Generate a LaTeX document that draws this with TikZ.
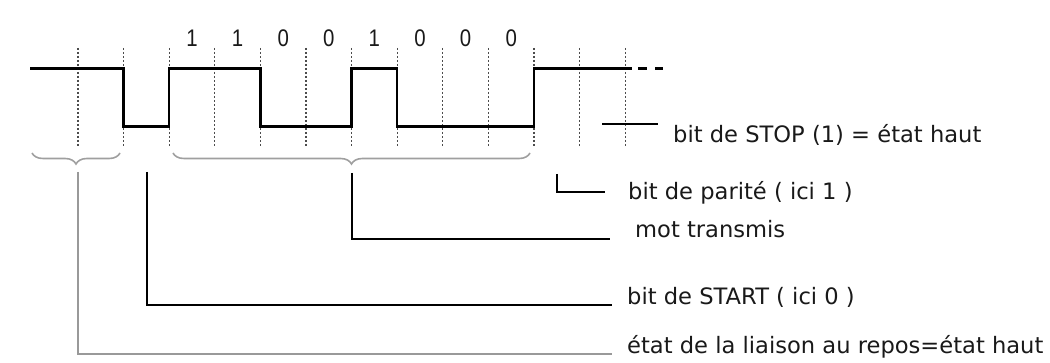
\documentclass[tikz,border=0pt]{standalone}
\usepackage{fontspec}
\setmainfont{DejaVu Sans}
\newfontfamily\digitfont{Liberation Sans}
\usetikzlibrary{decorations.pathreplacing,calc}

\begin{document}
\begin{tikzpicture}[x=1pt,y=-1pt,
  signal/.style={line width=2.3pt, line join=miter, black},
  grid line/.style={line width=1.1pt, black!70, dash pattern=on 2.5pt off 1.5pt},
  bracket/.style={decorate, decoration={brace,mirror,amplitude=11pt}, line width=1.6pt, gray!75},
  leader/.style={line width=1.6pt, black},
  caption text/.style={anchor=base west, inner sep=0pt, font=\fontsize{22.6}{27}\selectfont, text=black!90},
  bitval/.style={anchor=base, inner sep=0pt, font=\digitfont\fontsize{24}{26}\selectfont, xscale=0.85, text=black!90}
]
\useasboundingbox (0,0) rectangle (1050,363);

% bit-time grid
\foreach \k in {0,...,12}
  \draw[grid line] (78+45.6*\k,48) -- (78+45.6*\k,147);

% transmitted waveform
\draw[signal] (30,68.5) -- (123.6,68.5) -- (123.6,126.5) -- (169.2,126.5)
  -- (169.2,68.5) -- (260.4,68.5) -- (260.4,126.5) -- (351.6,126.5)
  -- (351.6,68.5) -- (397.2,68.5) -- (397.2,126.5) -- (534,126.5)
  -- (534,68.5) -- (632,68.5);
\draw[signal, dash pattern=on 9pt off 8pt] (638,68.5) -- (663,68.5);

% data bits
\foreach \b [count=\i from 2] in {1,1,0,0,1,0,0,0}
  \node[bitval] (bit\i) at (78+45.6*\i+22.8,46.5) {\b};

% braces
\draw[bracket] (32,153) -- (120,153);
\draw[bracket] (173,153) -- (530,153);

% leader origins
\coordinate (restTip) at (78,172);
\coordinate (startTip) at (147,172);
\coordinate (wordTip) at (352,173);
\coordinate (parityTip) at (557,174);

% captions
\node[caption text] (stop) at (673,143) {bit de STOP (1) = état haut};
\node[caption text] (parity) at (628,200) {bit de parité ( ici 1 )};
\node[caption text] (word) at (635,238) {mot transmis};
\node[caption text] (start) at (627,305) {bit de START ( ici 0 )};
\node[caption text] (rest) at (627,354) {état de la liaison au repos=état haut};

% leaders
\draw[leader, gray!80] (restTip) |- ($(rest.base west)+(-15,0)$);
\draw[leader] (startTip) |- ($(start.base west)+(-15,0)$);
\draw[leader] (wordTip) |- ($(word.base west)+(-25,1)$);
\draw[leader] (parityTip) |- ($(parity.base west)+(-23,-8)$);
\draw[leader] ($(stop.base west)+(-71,-19)$) -- ($(stop.base west)+(-15,-19)$);
\end{tikzpicture}
\end{document}
